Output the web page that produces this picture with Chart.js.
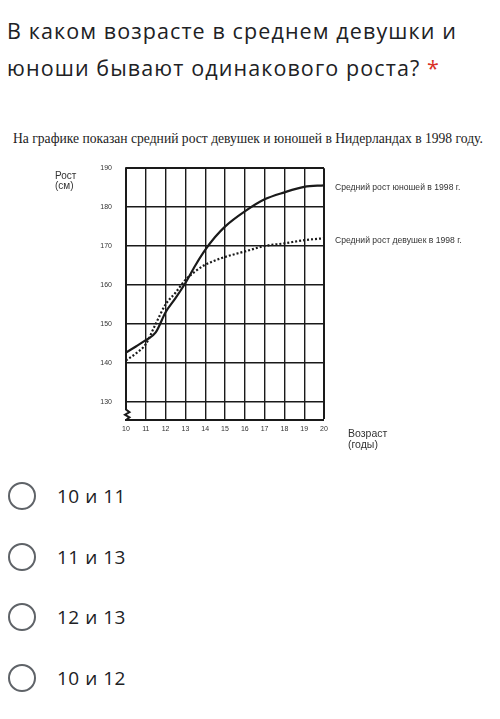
<!DOCTYPE html>
<html>
<head>
<meta charset="utf-8">
<script src="https://cdn.jsdelivr.net/npm/chart.js@4.4.1/dist/chart.umd.min.js"></script>
<style>
  html, body { margin: 0; padding: 0; background: #fff; }
  body { width: 500px; height: 719px; position: relative; overflow: hidden; }
  .q { position: absolute; left: 7px; top: 12px; width: 493px; font: 21.5px "Open Sans", sans-serif; letter-spacing: 1.1px; line-height: 37px; color: #202124; white-space: nowrap; }
  .q .star { color: #d93025; }
  .caption { position: absolute; left: 13px; top: 131px; font: 13.6px "Liberation Serif", serif; color: #222; white-space: nowrap; }
  .opt { position: absolute; left: 8px; height: 30px; display: flex; align-items: center; font: 19px "Open Sans", sans-serif; letter-spacing: 0.5px; color: #202124; }
  .opt .dot { width: 24px; height: 24px; border: 2.5px solid #5f6368; border-radius: 50%; margin-right: 21px; box-sizing: content-box; }
  #wrap { position: absolute; left: 0; top: 150px; width: 500px; height: 310px; }
</style>
</head>
<body>
<div class="q">В каком возрасте в среднем девушки и<br>юноши бывают одинакового роста? <span class="star">*</span></div>
<div class="caption">На графике показан средний рост девушек и юношей в Нидерландах в 1998 году.</div>
<div id="wrap"><canvas id="chart"></canvas></div>

<script>
// Age (years) and average height (cm)
const ages  = [10, 10.5, 11, 11.5, 12, 12.5, 13, 13.5, 14, 14.5, 15, 16, 17, 18, 19, 20];
const boys  = [142.6, 144.2, 145.8, 147.8, 153, 156.6, 160.5, 165, 169, 172.3, 175, 178.9, 182, 183.8, 185.2, 185.6];
const girls = [140.6, 142.4, 144.8, 150, 155, 158, 161.3, 163.5, 165.2, 166.3, 167.2, 168.6, 170, 170.7, 171.5, 172];

const xTicks = [10, 11, 12, 13, 14, 15, 16, 17, 18, 19, 20];
const yTicks = [130, 140, 150, 160, 170, 180, 190];
const seriesLabels = ["Средний рост юношей в 1998 г.", "Средний рост девушек в 1998 г."];
const answers = ["10 и 11", "11 и 13", "12 и 13", "10 и 12"];

// answer options
answers.forEach((a, i) => {
  const d = document.createElement("div");
  d.className = "opt";
  d.style.top = (481 + i * 60.5) + "px";
  d.innerHTML = '<span class="dot"></span><span>' + a + '</span>';
  document.body.appendChild(d);
});

const INK = "#1a1a1a";

// left axis with the break zigzag, axis titles and line labels
const decorations = {
  id: "decorations",
  afterDatasetsDraw(chart) {
    const { ctx, chartArea: a, scales: { y } } = chart;
    ctx.save();
    // left axis + zigzag
    const yBreak = y.getPixelForValue(128);
    const step = (a.bottom - yBreak) / 4;
    ctx.strokeStyle = INK;
    ctx.lineWidth = 2;
    ctx.beginPath();
    ctx.moveTo(a.left, a.top - 1);
    ctx.lineTo(a.left, yBreak);
    ctx.lineTo(a.left + 3.5, yBreak + step);
    ctx.lineTo(a.left - 1, yBreak + step * 2);
    ctx.lineTo(a.left + 3.5, yBreak + step * 3);
    ctx.lineTo(a.left, a.bottom);
    ctx.stroke();

    ctx.fillStyle = "#333";
    ctx.textAlign = "left";
    ctx.textBaseline = "alphabetic";
    ctx.font = "10px Arial, 'Liberation Sans', sans-serif";
    ctx.fillText("Рост", 55, a.top + 11);
    ctx.fillText("(см)", 55, a.top + 21);
    ctx.font = "10.5px Arial, 'Liberation Sans', sans-serif";
    ctx.fillText("Возраст", 348, a.bottom + 17);
    ctx.fillText("(годы)", 348, a.bottom + 28);

    ctx.font = "8.6px Arial, 'Liberation Sans', sans-serif";
    ctx.textBaseline = "middle";
    chart.data.datasets.forEach((ds, i) => {
      const last = ds.data[ds.data.length - 1];
      ctx.fillText(seriesLabels[i], a.right + 11, y.getPixelForValue(last.y) + 2);
    });
    ctx.restore();
  }
};

const tickFont = { family: "Arial, 'Liberation Sans', sans-serif", size: 7 };

new Chart(document.getElementById("chart"), {
  type: "line",
  data: {
    datasets: [
      {
        label: seriesLabels[0],
        data: ages.map((a, i) => ({ x: a, y: boys[i] })),
        borderColor: INK,
        borderWidth: 2.2,
        pointRadius: 0,
        cubicInterpolationMode: "monotone"
      },
      {
        label: seriesLabels[1],
        data: ages.map((a, i) => ({ x: a, y: girls[i] })),
        borderColor: INK,
        borderWidth: 2.2,
        borderDash: [2, 2],
        pointRadius: 0,
        cubicInterpolationMode: "monotone"
      }
    ]
  },
  options: {
    responsive: true,
    maintainAspectRatio: false,
    animation: false,
    layout: { padding: { left: 0, right: 176, top: 17, bottom: 0 } },
    plugins: { legend: { display: false }, tooltip: { enabled: false } },
    scales: {
      x: {
        type: "linear",
        min: 10,
        max: 20,
        afterBuildTicks: s => { s.ticks = xTicks.map(v => ({ value: v })); },
        afterFit: s => { s.height = 40; },
        border: { display: true, color: INK, width: 2 },
        grid: {
          drawTicks: false,
          color: INK,
          lineWidth: c => (c.index === 0 ? 0 : (c.index === xTicks.length - 1 ? 2 : 1.4))
        },
        ticks: { padding: 5, color: "#333", font: tickFont, maxRotation: 0 }
      },
      y: {
        min: 125.3,
        max: 190,
        afterBuildTicks: s => { s.ticks = yTicks.map(v => ({ value: v })); },
        afterFit: s => { s.width = 126; },
        border: { display: false },
        grid: {
          drawTicks: false,
          color: INK,
          lineWidth: c => (c.tick && c.tick.value === 190 ? 2 : 1.4)
        },
        ticks: { padding: 14, color: "#333", font: tickFont }
      }
    }
  },
  plugins: [decorations]
});
</script>
</body>
</html>
